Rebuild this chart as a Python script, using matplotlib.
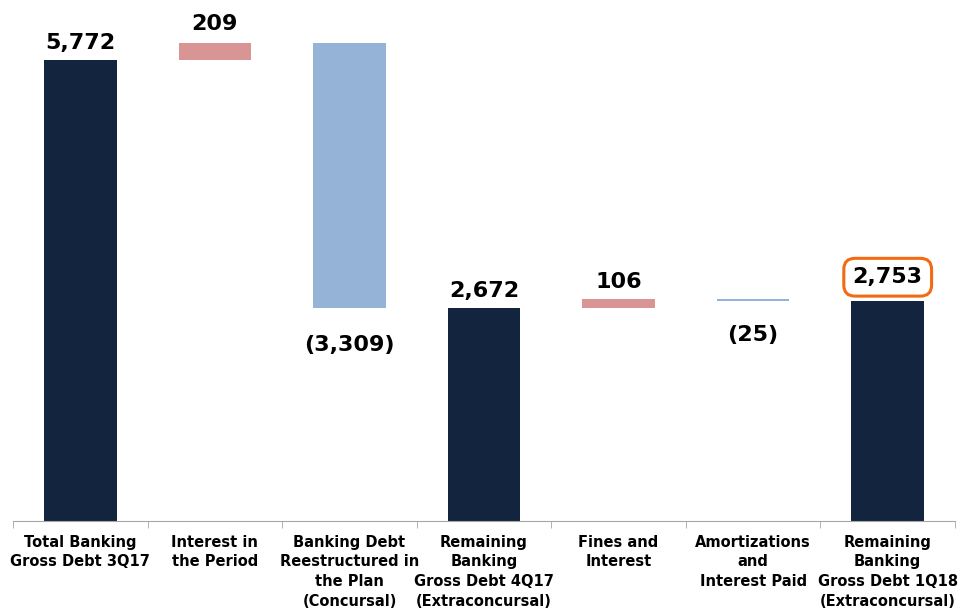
import matplotlib
matplotlib.use("Agg")
import matplotlib.pyplot as plt

# ---------------- Data ----------------
categories = [
    "Total Banking\nGross Debt 3Q17",
    "Interest in\nthe Period",
    "Banking Debt\nReestructured in\nthe Plan\n(Concursal)",
    "Remaining\nBanking\nGross Debt 4Q17\n(Extraconcursal)",
    "Fines and\nInterest",
    "Amortizations\nand\nInterest Paid",
    "Remaining\nBanking\nGross Debt 1Q18\n(Extraconcursal)",
]
values = [5772, 209, -3309, 2672, 106, -25, 2753]
is_total = [True, False, False, True, False, False, True]

NAVY = "#13243F"
PINK = "#D99594"
BLUE = "#95B3D7"
ORANGE = "#F26B12"

# ---------------- Waterfall geometry ----------------
bottoms, heights, colors = [], [], []
running = 0
for v, tot in zip(values, is_total):
    if tot:
        bottoms.append(0)
        heights.append(v)
        colors.append(NAVY)
        running = v
    elif v >= 0:
        bottoms.append(running)
        heights.append(v)
        colors.append(PINK)
        running += v
    else:
        bottoms.append(running + v)
        heights.append(-v)
        colors.append(BLUE)
        running += v

fig = plt.figure(figsize=(9.59, 6.08), dpi=100)
ax = fig.add_axes([0.0136, 0.1431, 0.9822, 0.8569])

x = range(len(values))
ax.bar(x, heights, bottom=bottoms, width=0.54, color=colors, linewidth=0)

ax.set_xlim(-0.5, 6.5)
ax.set_ylim(0, 6523)

# ---------------- Value labels ----------------
for i, v in enumerate(values):
    top = bottoms[i] + heights[i]
    if v >= 0:
        txt = f"{v:,}"
        dy = 7 if i == 1 else 5
        ann = ax.annotate(txt, (i, top), xytext=(0, dy), textcoords="offset points",
                          ha="center", va="bottom", fontsize=16, fontweight="bold")
        if i == len(values) - 1:
            ann.set_bbox(dict(boxstyle="round,pad=0.4,rounding_size=0.5",
                              fc="white", ec=ORANGE, lw=2.2))
            ann.xyann = (0, 10)
    else:
        txt = f"({-v:,})"
        dy = -20 if i == 2 else -17
        ax.annotate(txt, (i, bottoms[i]), xytext=(0, dy), textcoords="offset points",
                    ha="center", va="top", fontsize=16, fontweight="bold")

# ---------------- Axis styling ----------------
for s in ["top", "right", "left"]:
    ax.spines[s].set_visible(False)
ax.spines["bottom"].set_color("#A6A6A6")
ax.set_yticks([])
ax.set_xticks(list(x))
ax.set_xticklabels(categories, fontsize=10.5, fontweight="bold", linespacing=1.38, va="top")
ax.tick_params(axis="x", length=0, pad=10)
ax.set_xticks([i - 0.5 for i in range(len(values) + 1)], minor=True)
ax.tick_params(axis="x", which="minor", length=5, color="#A6A6A6")

fig.savefig("out.png", dpi=100)
